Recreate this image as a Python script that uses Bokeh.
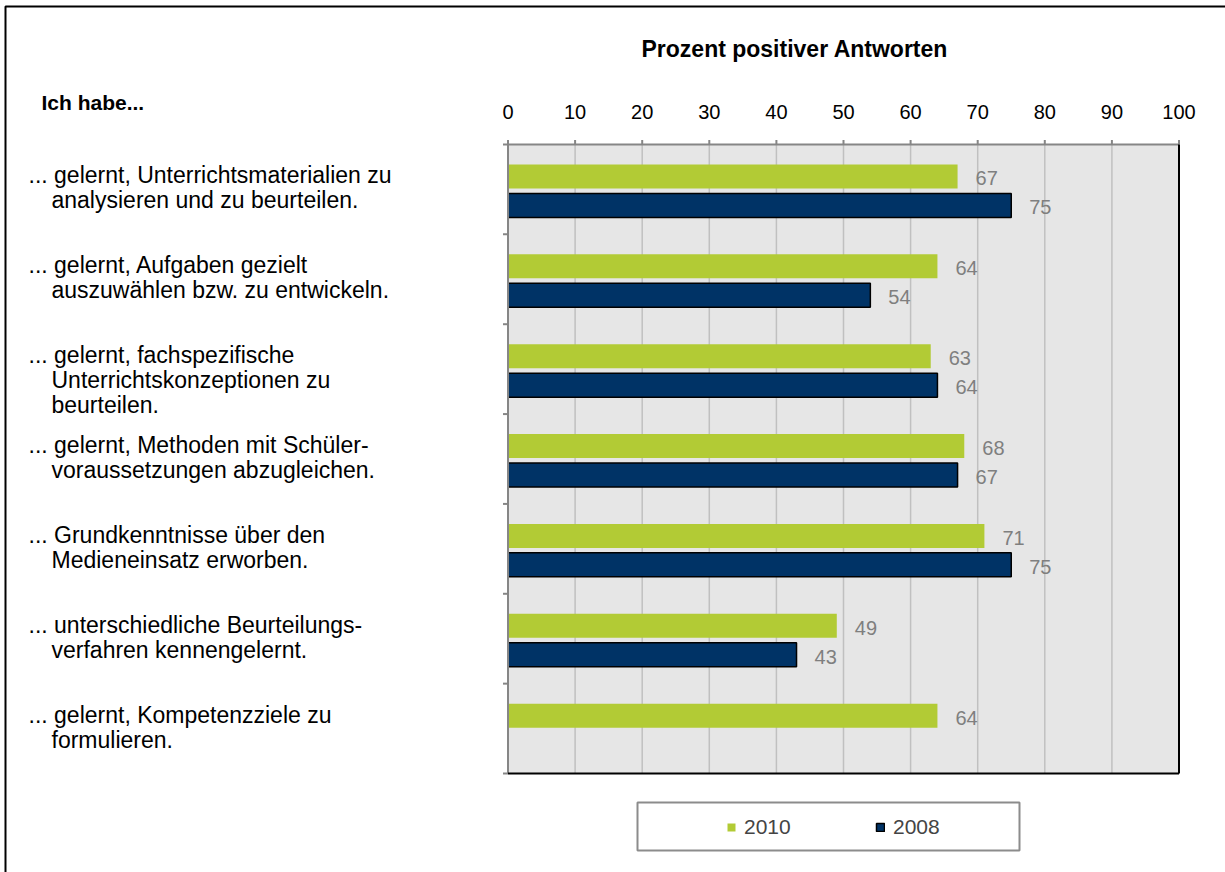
from bokeh.plotting import figure
from bokeh.models import (Range1d, Legend, LegendItem, BoxAnnotation,
                          ColumnDataSource)
from bokeh.core.properties import value
from bokeh.embed import file_html
from bokeh.resources import INLINE

# ---------------- data ----------------
categories = [
    ["... gelernt, Unterrichtsmaterialien zu", "analysieren und zu beurteilen."],
    ["... gelernt, Aufgaben gezielt", "auszuwählen bzw. zu entwickeln."],
    ["... gelernt, fachspezifische", "Unterrichtskonzeptionen zu", "beurteilen."],
    ["... gelernt, Methoden mit Schüler-", "voraussetzungen abzugleichen."],
    ["... Grundkenntnisse über den", "Medieneinsatz erworben."],
    ["... unterschiedliche Beurteilungs-", "verfahren kennengelernt."],
    ["... gelernt, Kompetenzziele zu", "formulieren."],
]
values_2010 = [67, 64, 63, 68, 71, 49, 64]
values_2008 = [75, 54, 64, 67, 75, 43, None]
series_names = ["2010", "2008"]
x_ticks = [0, 10, 20, 30, 40, 50, 60, 70, 80, 90, 100]
title_text = "Prozent positiver  Antworten"
header_text = "Ich habe..."

# ---------------- layout / style ----------------
FONT = "Liberation Sans"
GREEN = "#b2cb35"
NAVY = "#003366"
GRAY_AX = "#868686"
GRID = "#c0c0c0"
VAL_GRAY = "#7f7f7f"

W, H = 1225, 872
# pixel box of the plot area on the canvas
PX0, PX1, PY0, PY1 = 507.5, 1178.5, 144.0, 773.0
NCAT = len(categories)
XMIN, XMAX = x_ticks[0], x_ticks[-1]
sx = (PX1 - PX0) / (XMAX - XMIN)      # px per x unit
sy = (PY1 - PY0) / NCAT               # px per category


def X(px):
    return XMIN + (px - PX0) / sx


def Y(py):
    return (py - PY0) / sy


p = figure(width=W, height=H,
           x_range=Range1d(X(0), X(W)), y_range=Range1d(Y(H), Y(0)),
           output_backend="svg", toolbar_location=None,
           min_border=0, min_border_left=0, min_border_right=0,
           min_border_top=0, min_border_bottom=0)
p.axis.visible = False
p.grid.visible = False
p.outline_line_color = None
p.background_fill_color = "white"
p.border_fill_color = "white"

# plot area background
p.add_layout(BoxAnnotation(left=XMIN, right=XMAX, top=0, bottom=NCAT,
                           fill_color="#e6e6e6", fill_alpha=1,
                           line_color=None, level="underlay"))

# vertical grid lines
gx = x_ticks[1:-1]
p.segment(x0=gx, y0=[0] * len(gx), x1=gx, y1=[NCAT] * len(gx),
          line_color=GRID, line_width=1.5)

# ---------------- bars ----------------
G_OFF, N_OFF, BAR_H = 0.356, 0.678, 0.267
y10 = [i + G_OFF for i in range(len(values_2010))]
idx08 = [i for i, v in enumerate(values_2008) if v is not None]
y08 = [i + N_OFF for i in idx08]
v08 = [values_2008[i] for i in idx08]

src10 = ColumnDataSource(dict(y=y10, v=values_2010, t=[str(v) for v in values_2010]))
src08 = ColumnDataSource(dict(y=y08, v=v08, t=[str(v) for v in v08]))

r10 = p.hbar(y="y", right="v", left=XMIN, height=BAR_H, source=src10,
             fill_color=GREEN, line_color=None)
r08 = p.hbar(y="y", right="v", left=XMIN, height=BAR_H, source=src08,
             fill_color=NAVY, line_color="black", line_width=1.5)

for src in (src10, src08):
    p.text(x="v", y="y", text="t", source=src, x_offset=18, y_offset=2,
           text_font=value(FONT), text_font_size="20px", text_color=VAL_GRAY,
           text_baseline="middle", text_align="left")

# ---------------- axes (drawn) ----------------
# top axis: line, outward ticks, labels
TICK = 4.5
p.segment(x0=x_ticks, y0=[Y(PY0 - TICK)] * len(x_ticks), x1=x_ticks,
          y1=[0] * len(x_ticks), line_color=GRAY_AX, line_width=2)
p.segment(x0=[XMIN], y0=[0], x1=[XMAX], y1=[0], line_color=GRAY_AX, line_width=2)
p.text(x=x_ticks, y=[Y(111.5)] * len(x_ticks), text=[str(t) for t in x_ticks],
       text_font=value(FONT), text_font_size="20px", text_color="black",
       text_align="center", text_baseline="middle")

# left axis: line and boundary ticks
bnd = list(range(NCAT + 1))
p.segment(x0=[X(PX0 - 5)] * len(bnd), y0=bnd, x1=[XMIN] * len(bnd), y1=bnd,
          line_color=GRAY_AX, line_width=2)
p.segment(x0=[XMIN], y0=[0], x1=[XMIN], y1=[NCAT], line_color=GRAY_AX, line_width=2)

# right and bottom black borders
p.segment(x0=[XMAX, XMIN], y0=[0, NCAT], x1=[XMAX, XMAX], y1=[NCAT, NCAT],
          line_color="black", line_width=2)

# ---------------- category labels ----------------
lx, ly, lt = [], [], []
for i, lines in enumerate(categories):
    for k, line in enumerate(lines):
        lx.append(X(28) if k == 0 else X(51))
        ly.append(i + 0.5 + (-14 + 25 * k) / sy)
        lt.append(line)
p.text(x=lx, y=ly, text=lt, text_font=value(FONT), text_font_size="23px",
       text_color="black", text_align="left", text_baseline="middle")

p.text(x=[X(41)], y=[Y(101.5)], text=[header_text], text_font=value(FONT),
       text_font_size="21px", text_font_style="bold", text_color="black",
       text_align="left", text_baseline="middle")
p.text(x=[X(641)], y=[Y(48)], text=[title_text], text_font=value(FONT),
       text_font_size="23px", text_font_style="bold", text_color="black",
       text_align="left", text_baseline="middle")

# ---------------- legend ----------------
p.add_layout(BoxAnnotation(left=X(637), right=X(1019), top=Y(802), bottom=Y(850),
                           fill_color="white", fill_alpha=1,
                           line_color="#8c8c8c", line_alpha=1, line_width=2))
legend = Legend(items=[LegendItem(label=series_names[0], renderers=[r10]),
                       LegendItem(label=series_names[1], renderers=[r08])],
                orientation="horizontal", location=(726, 33),
                padding=0, margin=0, spacing=81, label_standoff=8,
                glyph_width=10, glyph_height=10, label_width=50,
                border_line_color=None, background_fill_alpha=0,
                label_text_font=FONT, label_text_font_size="21px")
p.add_layout(legend)

# ---------------- outer border (left/top visible) ----------------
p.add_layout(BoxAnnotation(left=X(5), right=X(W + 50), top=Y(6), bottom=Y(H + 50),
                           fill_color=None, fill_alpha=0,
                           line_color="black", line_alpha=1, line_width=2))

open("out.html", "w").write(file_html(p, INLINE))
